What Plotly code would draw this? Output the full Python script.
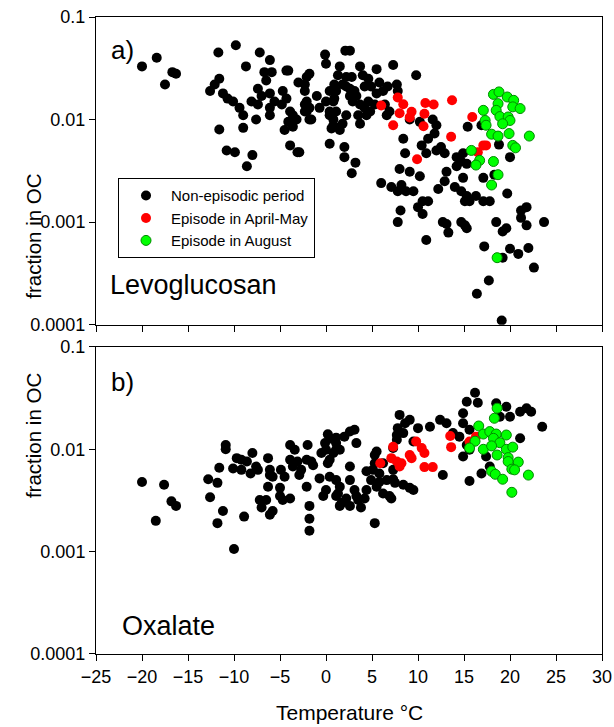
import plotly.graph_objects as go
from plotly.subplots import make_subplots

# Levoglucosan, non-episodic period
levo_non_temp = [-20.0, -18.4, -17.5, -16.7, -16.3, -11.7, -9.8, -8.7, -7.2, -6.1, -12.6, -12.1, -11.6, -11.2,
                 -10.7, -10.1, -9.4, -9.0, -7.6, -9.0, -11.6, -10.8, -9.9, -8.0, -8.6, -8.1, -7.4, -6.7, -5.9,
                 -4.3, -4.1, -6.5, -7.4, -7.0, -6.1, -5.6, -6.1, -6.1, -4.7, -4.3, -4.8, -3.9, -3.6, -4.1, -4.5,
                 -3.6, -3.2, -3.9, -3.1, -3.0, -2.3, -1.8, -2.3, -2.1, -1.8, -1.6, -2.3, -1.0, -0.7, -0.1, 0.0,
                 2.1, 2.6, 1.5, 1.3, 1.8, 2.2, 2.6, 2.9, 3.7, 4.0, 0.4, 0.8, 1.1, 0.4, 0.8, 1.5, 1.8, 2.2, 3.3,
                 3.7, 4.2, 4.6, 0.4, 2.0, 2.0, 3.2, -2.1, 2.8, 5.5, 7.3, 9.8, 0.9, 1.1, 0.9, 2.2, 2.6, 2.9, 3.1,
                 4.2, 4.6, 4.9, 5.5, 5.8, 6.2, 6.7, 7.7, 7.8, 0.0, 0.4, 0.8, 0.6, 3.5, 4.4, 4.8, 3.7, 5.3, 6.4,
                 6.6, 6.9, -2.1, -1.8, -2.3, 8.4, 9.1, 10.2, 11.1, 11.8, 10.4, 10.9, 12.0, 2.8, 8.6, 8.0, 9.1,
                 10.2, 9.5, 6.0, 7.1, 7.8, 8.2, 8.7, 10.5, 11.1, 10.0, -2.9, 15.4, 16.9, 18.8, 20.0, 12.5, 12.9,
                 14.2, 14.7, 15.3, 14.9, 13.1, 14.9, 17.1, 18.3, 11.6, 12.0, 12.9, 12.2, 14.0, 14.2, 19.7, 14.7,
                 15.3, 15.6, 16.3, 17.1, 17.8, 15.1, 10.5, 8.1, 7.8, 12.7, 13.1, 13.3, 14.7, 15.1, 15.3, 10.9,
                 18.5, 19.2, 19.6, 21.2, 21.8, 21.2, 21.8, 23.7, 17.2, 20.0, 20.9, 22.0, 19.2, 22.6, 17.7, 16.4,
                 19.1]
levo_non_frac = [0.033, 0.040, 0.022, 0.029, 0.028, 0.045, 0.053, 0.033, 0.045, 0.038, 0.019, 0.022, 0.025, 0.018,
                 0.016, 0.015, 0.013, 0.011, 0.010, 0.0083, 0.0080, 0.0050, 0.0048, 0.0045, 0.0035, 0.015, 0.014,
                 0.029, 0.029, 0.030, 0.030, 0.024, 0.020, 0.017, 0.018, 0.015, 0.013, 0.011, 0.019, 0.016, 0.014,
                 0.012, 0.011, 0.0095, 0.0079, 0.0085, 0.010, 0.0056, 0.0048, 0.023, 0.022, 0.028, 0.019, 0.015,
                 0.013, 0.010, 0.012, 0.017, 0.013, 0.043, 0.035, 0.047, 0.047, 0.033, 0.027, 0.022, 0.026, 0.020,
                 0.017, 0.033, 0.027, 0.019, 0.015, 0.012, 0.011, 0.0088, 0.0079, 0.0091, 0.011, 0.017, 0.014,
                 0.013, 0.015, 0.0058, 0.0054, 0.0043, 0.0038, 0.026, 0.026, 0.031, 0.034, 0.027, 0.022, 0.019,
                 0.016, 0.021, 0.017, 0.015, 0.019, 0.021, 0.025, 0.021, 0.018, 0.023, 0.019, 0.021, 0.022, 0.019,
                 0.015, 0.012, 0.010, 0.0082, 0.011, 0.011, 0.012, 0.0091, 0.014, 0.014, 0.011, 0.012, 0.012,
                 0.010, 0.014, 0.0065, 0.010, 0.0095, 0.0065, 0.0073, 0.0056, 0.0047, 0.0050, 0.0030, 0.0047,
                 0.0033, 0.0031, 0.0028, 0.0020, 0.0024, 0.0022, 0.0020, 0.0023, 0.0020, 0.0016, 0.0016, 0.0014,
                 0.0048, 0.0085, 0.0088, 0.0057, 0.0043, 0.0054, 0.0047, 0.0043, 0.0039, 0.0037, 0.0047, 0.0031,
                 0.0027, 0.0027, 0.0029, 0.010, 0.0088, 0.0025, 0.0021, 0.0022, 0.0035, 0.0019, 0.0020, 0.0018,
                 0.0016, 0.0018, 0.0016, 0.0016, 0.0016, 0.0012, 0.0013, 0.0010, 0.0010, 0.00096, 0.00079,
                 0.0010, 0.00093, 0.00087, 0.00067, 0.0010, 0.00081, 0.00087, 0.0013, 0.0014, 0.0011, 0.00093,
                 0.0010, 0.00058, 0.00055, 0.00049, 0.00056, 0.00045, 0.00036, 0.00027, 0.00020, 0.00011]

# Levoglucosan, episode in April-May
levo_apr_temp = [6.0, 7.8, 8.4, 8.0, 9.3, 9.1, 7.3, 10.8, 11.7, 10.7, 10.6, 13.7, 15.9, 13.6, 17.1, 17.4, 16.5, 9.9]
levo_apr_frac = [0.0137, 0.0164, 0.0141, 0.0115, 0.0119, 0.0105, 0.0088, 0.0145, 0.0140, 0.0114, 0.0086, 0.0154,
                 0.0106, 0.0068, 0.0056, 0.0056, 0.0048, 0.0041]

# Levoglucosan, episode in August
levo_aug_temp = [18.2, 18.8, 19.7, 20.4, 17.1, 18.7, 18.5, 20.3, 21.1, 18.9, 19.8, 20.0, 19.2, 17.3, 17.4, 18.0,
                 18.7, 19.9, 22.1, 20.3, 20.6, 15.8, 16.7, 16.3, 18.2, 18.7, 18.0, 18.6]
levo_aug_frac = [0.0176, 0.0186, 0.0166, 0.0154, 0.0123, 0.0143, 0.0123, 0.0133, 0.0128, 0.0107, 0.0106, 0.0098,
                 0.0091, 0.0098, 0.0088, 0.0072, 0.0069, 0.0073, 0.0069, 0.0056, 0.0053, 0.0050, 0.0040, 0.0036,
                 0.0039, 0.0029, 0.0023, 0.00045]

# Oxalate, non-episodic period
oxa_non_temp = [-20.0, -17.6, -18.5, -16.8, -16.3, -12.8, -12.6, -11.8, -11.6, -11.2, -11.8, -10.9, -10.9, -10.0,
                -10.1, -9.7, -9.2, -8.6, -8.0, -7.6, -8.2, -8.9, -6.3, -6.1, -6.3, -6.5, -7.0, -6.1, -5.8, -5.0,
                -4.7, -4.9, -4.5, -3.9, -3.6, -3.1, -2.9, -2.0, -1.8, -1.8, -1.8, -2.1, -1.4, -0.7, -0.3, 0.2,
                0.0, 0.2, 1.1, 0.8, 1.1, 1.3, 1.5, 2.2, -9.2, -7.4, -6.1, -5.8, -3.9, -3.4, -2.7, -2.1, -1.6,
                -7.2, -5.0, -3.9, -0.5, -0.1, 0.6, 1.1, 2.0, 1.5, 3.1, 3.3, 2.6, 0.0, 0.4, 1.5, 1.1, 1.7, 2.6,
                3.1, 3.5, 4.2, 3.8, 4.4, 4.9, 5.5, 5.8, 5.3, 5.5, 6.2, 5.3, 7.1, 6.6, 7.5, 8.4, 9.5, 8.0, 8.6,
                9.1, 7.7, 8.4, 9.5, 7.3, 7.7, 12.7, 15.6, 16.9, 10.0, 11.3, 12.4, 13.1, 13.8, 14.9, 15.3, 16.2,
                16.5, 14.9, 15.6, 14.5, 15.3, 14.9, 15.6, 17.4, 17.8, 18.5, 19.6, 18.9, 20.0, 21.1, 21.8, 22.3,
                21.1, 23.5, 2.6, 1.1, 0.4, 2.6, 3.3, 4.4, 5.8, 6.2, 6.9, 7.3, 9.1, 5.1, 5.3, 7.3, 7.8]
oxa_non_frac = [0.0048, 0.0045, 0.0020, 0.0031, 0.0028, 0.0051, 0.0034, 0.0047, 0.0066, 0.0025, 0.0019, 0.011,
                0.010, 0.00106, 0.0065, 0.0082, 0.0079, 0.0076, 0.0092, 0.0068, 0.0058, 0.0022, 0.0082, 0.0056,
                0.0043, 0.0032, 0.0027, 0.0023, 0.0025, 0.0042, 0.0032, 0.0063, 0.0054, 0.011, 0.0068, 0.0076,
                0.0056, 0.011, 0.0028, 0.0021, 0.0016, 0.0043, 0.0070, 0.0052, 0.0035, 0.0073, 0.0099, 0.014,
                0.013, 0.0092, 0.0050, 0.0037, 0.0028, 0.0033, 0.0063, 0.0063, 0.0063, 0.0054, 0.0079, 0.0099,
                0.0063, 0.0079, 0.0076, 0.0032, 0.0035, 0.0033, 0.0092, 0.0115, 0.0127, 0.0115, 0.0133, 0.0099,
                0.0155, 0.0115, 0.0068, 0.0040, 0.0054, 0.0043, 0.0035, 0.0030, 0.0050, 0.0040, 0.0032, 0.0033,
                0.0027, 0.0061, 0.0050, 0.0043, 0.0058, 0.0073, 0.0095, 0.0073, 0.0019, 0.0033, 0.0050, 0.0047,
                0.0045, 0.0040, 0.0217, 0.0180, 0.0194, 0.0138, 0.0144, 0.0119, 0.0103, 0.0124, 0.0056, 0.0049,
                0.0058, 0.0161, 0.0166, 0.0194, 0.0180, 0.0144, 0.0225, 0.0292, 0.0357, 0.0285, 0.0180, 0.0155,
                0.0133, 0.0110, 0.0085, 0.0099, 0.0085, 0.0068, 0.0282, 0.0261, 0.0208, 0.0208, 0.0233, 0.0252,
                0.0233, 0.0128, 0.0166, 0.0149, 0.0099, 0.0079, 0.0028, 0.0035, 0.0040, 0.0048, 0.0037, 0.0035,
                0.0051, 0.0042, 0.0063, 0.0088, 0.0063, 0.0161]

# Oxalate, episode in April-May
oxa_apr_temp = [5.9, 7.3, 7.1, 7.7, 8.0, 8.2, 9.1, 9.3, 9.8, 10.4, 10.7, 10.7, 11.6, 13.5, 13.6, 15.6, 16.3]
oxa_apr_frac = [0.0073, 0.0106, 0.0082, 0.0076, 0.0068, 0.0073, 0.0088, 0.0082, 0.0119, 0.0103, 0.0092, 0.0067,
                0.0067, 0.0135, 0.0105, 0.0119, 0.0133]

# Oxalate, episode in August
oxa_aug_temp = [18.6, 18.3, 16.6, 17.1, 17.8, 18.5, 19.6, 18.2, 18.9, 16.2, 15.6, 17.1, 18.0, 19.6, 20.3, 18.6,
                19.8, 19.8, 20.9, 20.2, 20.5, 18.0, 18.4, 19.2, 22.0, 20.2]
oxa_aug_frac = [0.0252, 0.0201, 0.0169, 0.0141, 0.0149, 0.0141, 0.0138, 0.0128, 0.0116, 0.0120, 0.0103, 0.0100,
                0.0108, 0.0100, 0.0105, 0.0088, 0.0083, 0.0076, 0.0075, 0.0064, 0.0063, 0.0061, 0.0057, 0.0051,
                0.0056, 0.0038]

series_names = ['Non-episodic period', 'Episode in April-May', 'Episode in August']
y_tickvals = [0.0001, 0.001, 0.01, 0.1]
y_ticktext = ['0.0001', '0.001', '0.01', '0.1']

FONT = 'Arial, Liberation Sans, sans-serif'
styles = [dict(color='black', size=10, line=dict(width=0)),
          dict(color='#ff0000', size=10, line=dict(width=0)),
          dict(color='#00ff00', size=10, line=dict(width=1, color='#008a00'))]

fig = make_subplots(rows=2, cols=1, vertical_spacing=0.035)

panels = [
    [(levo_non_temp, levo_non_frac), (levo_apr_temp, levo_apr_frac), (levo_aug_temp, levo_aug_frac)],
    [(oxa_non_temp, oxa_non_frac), (oxa_apr_temp, oxa_apr_frac), (oxa_aug_temp, oxa_aug_frac)],
]
for row, panel in enumerate(panels, start=1):
    for i, (xs, ys) in enumerate(panel):
        fig.add_trace(go.Scatter(x=xs, y=ys, mode='markers', name=series_names[i],
                                 marker=styles[i], showlegend=(row == 1)),
                      row=row, col=1)

axis_common = dict(showline=True, linecolor='black', linewidth=1, mirror=True, showgrid=False,
                   zeroline=False, ticks='outside', ticklen=6, tickcolor='black', automargin=False,
                   tickfont=dict(family=FONT, size=18, color='black'))

fig.update_xaxes(range=[-25, 30], dtick=5, tick0=-25, domain=[0, 1], **axis_common)
fig.update_xaxes(showticklabels=False, row=1, col=1)
fig.update_yaxes(type='log', range=[-4, -1], tickvals=y_tickvals, ticktext=y_ticktext, **axis_common)
fig.update_layout(yaxis=dict(domain=[0.517, 1.0]), yaxis2=dict(domain=[0.0, 0.482]))

fig.update_layout(
    width=614, height=727,
    margin=dict(l=96, r=12, t=17, b=73),
    plot_bgcolor='white', paper_bgcolor='white',
    font=dict(family=FONT, color='black'),
    legend=dict(x=0.0435, y=0.747, xanchor='left', yanchor='top',
                bordercolor='black', borderwidth=1, bgcolor='white',
                font=dict(family=FONT, size=15, color='black'),
                itemwidth=40, indentation=2),
    annotations=[
        dict(text='a)', x=0.026, y=0.948, xref='paper', yref='paper', xanchor='left', yanchor='middle',
             showarrow=False, font=dict(size=26)),
        dict(text='b)', x=0.026, y=0.427, xref='paper', yref='paper', xanchor='left', yanchor='middle',
             showarrow=False, font=dict(size=26)),
        dict(text='Levoglucosan', x=0.024, y=0.579, xref='paper', yref='paper', xanchor='left',
             yanchor='middle', showarrow=False, font=dict(size=27)),
        dict(text='Oxalate', x=0.047, y=0.044, xref='paper', yref='paper', xanchor='left',
             yanchor='middle', showarrow=False, font=dict(size=27)),
        dict(text='fraction in OC', x=-0.15, y=0.758, xref='paper', yref='paper', textangle=-90,
             showarrow=False, font=dict(size=20.5)),
        dict(text='fraction in OC', x=-0.15, y=0.241, xref='paper', yref='paper', textangle=-90,
             showarrow=False, font=dict(size=20.5)),
        dict(text='Temperature °C', x=0.5, y=-0.092, xref='paper', yref='paper', yanchor='middle',
             showarrow=False, font=dict(size=21)),
    ],
)

# page has a default 8px body margin, drop it so the figure fills the window
fig.write_html("out.html", config={'displayModeBar': False},
               post_script="document.body.style.margin = '0';")
